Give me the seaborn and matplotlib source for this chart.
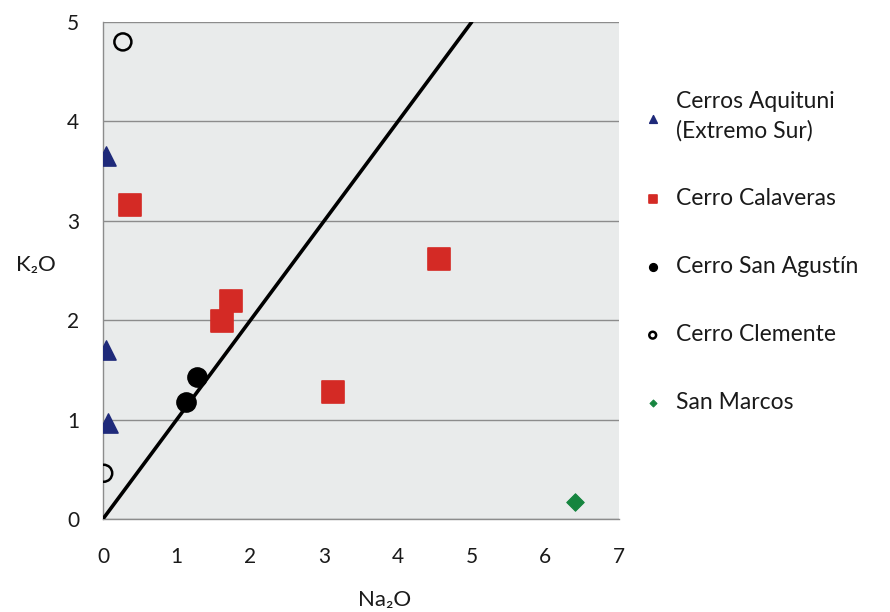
import pandas as pd
import seaborn as sns
from matplotlib import pyplot as plt

# values (Na2O, K2O wt%)
aquituni_na = [0.04, 0.04, 0.07]
aquituni_k = [3.65, 1.70, 0.97]
calaveras_na = [0.36, 1.62, 1.73, 3.12, 4.55]
calaveras_k = [3.16, 1.99, 2.19, 1.28, 2.62]
agustin_na = [1.12, 1.28]
agustin_k = [1.18, 1.43]
clemente_na = [0.27, 0.01]
clemente_k = [4.80, 0.46]
marcos_na = [6.40]
marcos_k = [0.17]

line_x = [0, 5]
line_y = [0, 5]

groups = [
    ("Cerros Aquituni\n(Extremo Sur)", aquituni_na, aquituni_k),
    ("Cerro Calaveras", calaveras_na, calaveras_k),
    ("Cerro San Agustín", agustin_na, agustin_k),
    ("Cerro Clemente", clemente_na, clemente_k),
    ("San Marcos", marcos_na, marcos_k),
]
styles = {
    "Cerros Aquituni\n(Extremo Sur)": dict(marker="^", color="#1f2a7a", s=190, edgecolor="#1f2a7a"),
    "Cerro Calaveras": dict(marker="s", color="#d42a25", s=230, edgecolor="#d42a25"),
    "Cerro San Agustín": dict(marker="o", color="black", s=190, edgecolor="black"),
    "Cerro Clemente": dict(marker="o", color="none", s=150, edgecolor="black", linewidth=1.8),
    "San Marcos": dict(marker="D", color="#16853f", s=80, edgecolor="#16853f"),
}

sns.set_style("white")
plt.rcParams["font.family"] = ["Lato", "DejaVu Sans"]

fig = plt.figure(figsize=(8.9, 6.12), dpi=100)
ax = fig.add_axes([0.1157, 0.152, 0.58, 0.812])
ax.set_facecolor("#e9ebeb")

sns.lineplot(x=line_x, y=line_y, ax=ax, color="black", linewidth=2.6, zorder=3)

for name, xs, ys in groups:
    df = pd.DataFrame({"Na2O": xs, "K2O": ys})
    sns.scatterplot(data=df, x="Na2O", y="K2O", ax=ax, label=name, zorder=4,
                    **styles[name])

ax.set_xlim(0, 7)
ax.set_ylim(0, 5)
ax.set_xticks(range(0, 8))
ax.set_yticks(range(0, 6))
ax.yaxis.grid(True, color="#8c8c8c", linewidth=1)
ax.set_axisbelow(True)
for side in ["top", "right"]:
    ax.spines[side].set_visible(False)
for side in ["left", "bottom"]:
    ax.spines[side].set_color("#8c8c8c")
    ax.spines[side].set_linewidth(1)
ax.tick_params(axis="x", direction="out", length=6, color="#8c8c8c",
               labelsize=15, pad=14, labelcolor="#1a1a1a")
ax.tick_params(axis="y", direction="out", length=8, color="#8c8c8c",
               labelsize=15, pad=9, labelcolor="#1a1a1a")
ax.set_xlabel("Na₂O", fontsize=16, color="#1a1a1a")
ax.xaxis.set_label_coords(0.545, -0.142)
ax.set_ylabel("K₂O", fontsize=16, rotation=0, color="#1a1a1a")
ax.yaxis.set_label_coords(-0.13, 0.49)

leg = ax.legend(loc="upper left", bbox_to_anchor=(1.025, 0.88), frameon=False,
                fontsize=16.5, markerscale=0.4, labelspacing=2.05,
                handletextpad=0.5, handlelength=1.0, borderaxespad=0)
for t in leg.get_texts():
    t.set_linespacing(1.45)
    t.set_color("#1a1a1a")

fig.savefig("out.png", dpi=100)
